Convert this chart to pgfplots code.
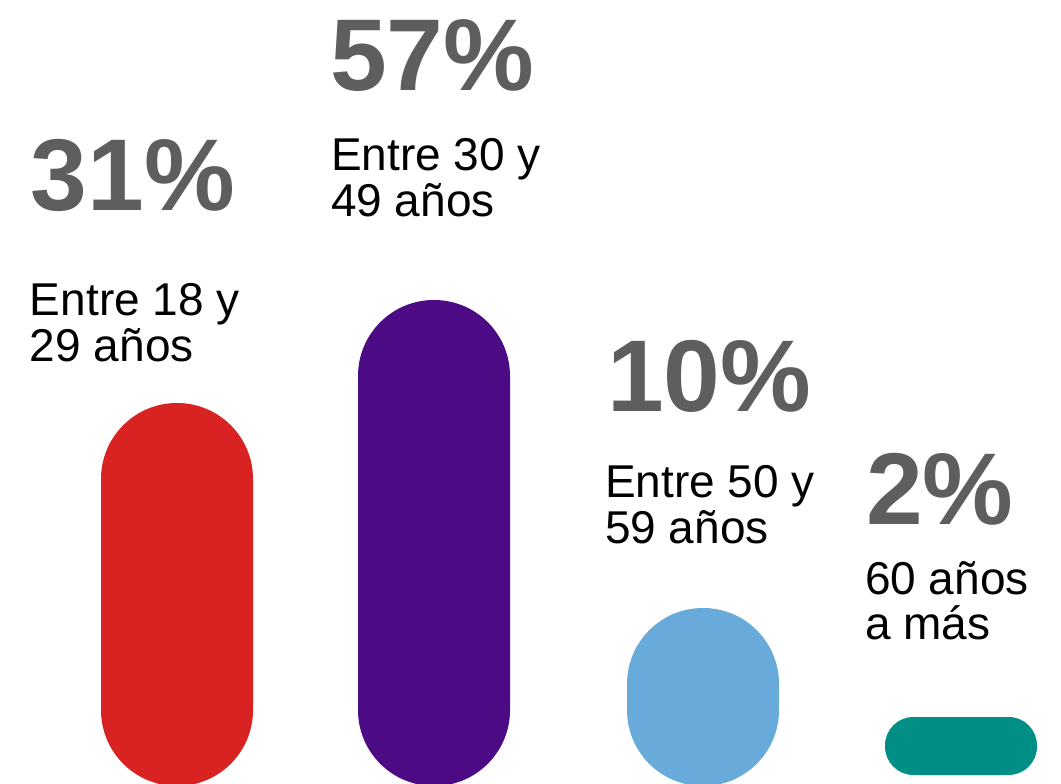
\documentclass[border=0pt]{standalone}
\usepackage{pgfplots}
\pgfplotsset{compat=1.18}
\usepackage{fontspec}
\setmainfont{Liberation Sans}
\definecolor{cRed}{HTML}{D92323}
\definecolor{cPurple}{HTML}{4C0B84}
\definecolor{cBlue}{HTML}{68ABDA}
\definecolor{cTeal}{HTML}{008E85}
\definecolor{cGray}{HTML}{5F5E5E}
\newcommand{\pct}{\fontsize{76.5}{76.5}\selectfont\bfseries\color{cGray}}
\newcommand{\dsc}{\fontsize{34.5}{34.5}\selectfont\color{black}}
\tikzset{lbl/.style={inner sep=0pt, outer sep=0pt, anchor=base west}}
\begin{document}
\begin{tikzpicture}
\useasboundingbox (0,0) rectangle (795.75pt,587.25pt);
\begin{axis}[
  x=0.75pt, y=0.75pt,
  xmin=0, xmax=1061, ymin=0, ymax=783,
  hide axis, clip=true,
]
% bars (pixel geometry of the reference, y measured from the bottom)
\addplot[fill=cRed, draw=none, rounded corners=56.9pt]
  coordinates {(177,-3) (101,-3) (101,380) (253,380) (253,-3) (177,-3)};
\addplot[fill=cPurple, draw=none, rounded corners=56.9pt]
  coordinates {(434,-3) (358,-3) (358,483) (510,483) (510,-3) (434,-3)};
\addplot[fill=cBlue, draw=none, rounded corners=56.9pt]
  coordinates {(703,-3) (627,-3) (627,175) (779,175) (779,-3) (703,-3)};
\addplot[fill=cTeal, draw=none, rounded corners=21.3pt]
  coordinates {(961,8) (885,8) (885,66) (1037,66) (1037,8) (961,8)};
% labels
\node[lbl] at (axis cs:31,572) {\pct 31\%};
\node[lbl] at (axis cs:30,467) {\dsc Entre 18 y};
\node[lbl] at (axis cs:30,421) {\dsc 29 años};
\node[lbl] at (axis cs:330,692) {\pct 57\%};
\node[lbl] at (axis cs:331,612) {\dsc Entre 30 y};
\node[lbl] at (axis cs:331,566) {\dsc 49 años};
\node[lbl] at (axis cs:607,371) {\pct 10\%};
\node[lbl] at (axis cs:605,286) {\dsc Entre 50 y};
\node[lbl] at (axis cs:605,240) {\dsc 59 años};
\node[lbl] at (axis cs:866,259) {\pct 2\%};
\node[lbl] at (axis cs:865,189) {\dsc 60 años};
\node[lbl] at (axis cs:865,144) {\dsc a más};
\end{axis}
\end{tikzpicture}
\end{document}
